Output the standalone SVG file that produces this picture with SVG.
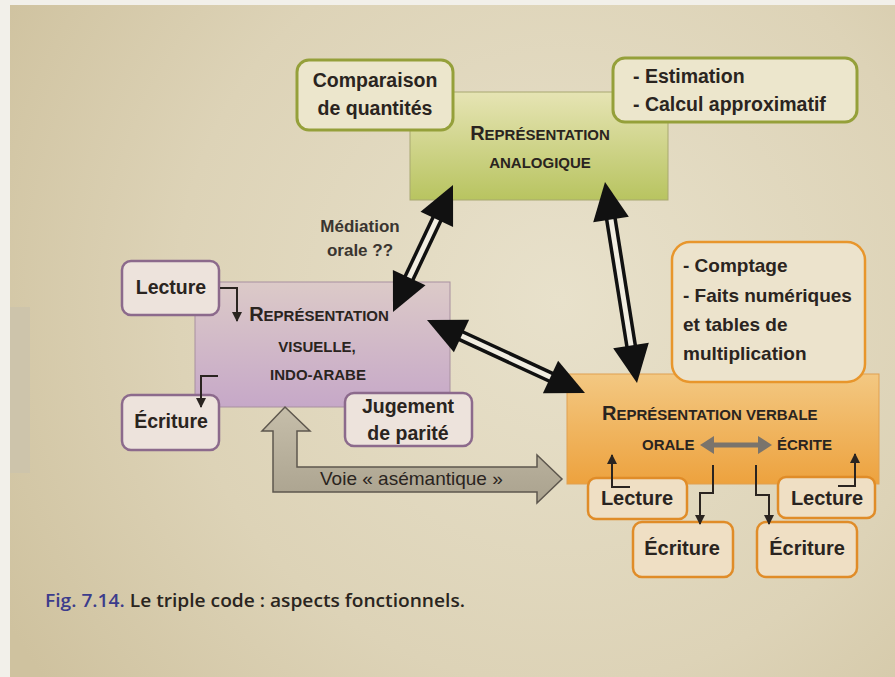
<svg xmlns="http://www.w3.org/2000/svg" width="895" height="677" viewBox="0 0 895 677">
<defs>
<radialGradient id="bg" cx="560" cy="300" r="640" gradientUnits="userSpaceOnUse">
<stop offset="0" stop-color="#e8e1cb"/>
<stop offset="0.6" stop-color="#ddd3b7"/>
<stop offset="1" stop-color="#cfc29f"/>
</radialGradient>
<linearGradient id="gGreen" x1="0" y1="0" x2="0" y2="1">
<stop offset="0" stop-color="#e6e4b4"/>
<stop offset="1" stop-color="#b8c460"/>
</linearGradient>
<linearGradient id="gPurple" x1="0" y1="0" x2="0" y2="1">
<stop offset="0" stop-color="#dccac8"/>
<stop offset="1" stop-color="#c6a8c8"/>
</linearGradient>
<linearGradient id="gOrange" x1="0" y1="0" x2="0" y2="1">
<stop offset="0" stop-color="#f3c882"/>
<stop offset="1" stop-color="#eda23e"/>
</linearGradient>
<linearGradient id="gGray" x1="0" y1="0" x2="0" y2="1">
<stop offset="0" stop-color="#c6beaa"/>
<stop offset="1" stop-color="#aaa28e"/>
</linearGradient>
<marker id="ah" viewBox="0 0 10 10" refX="9" refY="5" markerWidth="5" markerHeight="5" orient="auto" markerUnits="strokeWidth">
<path d="M0,0 L10,5 L0,10 z" fill="#2a2420"/>
</marker>
<style>
.t{font-family:"Liberation Sans",Arial,sans-serif;font-weight:bold;fill:#2a2420}
.r{font-family:"Liberation Sans",Arial,sans-serif;fill:#2a2420}
.bl{font-size:19.5px}
.sc{font-size:15px}
.big{font-size:20px}
.gbox{fill:#ece6cc;stroke:#95a03a;stroke-width:3}
.pbox{fill:#ede3dc;stroke:#8c6a8c;stroke-width:2.5}
.obox{fill:#efdfc4;stroke:#e08c28;stroke-width:2.5}
.elb{fill:none;stroke:#2a2420;stroke-width:2;marker-end:url(#ah)}
.sh{stroke:#111;stroke-width:12;stroke-linecap:butt}
.shi{stroke:#f2eee2;stroke-width:5;stroke-linecap:butt}
.hd{fill:#111}
</style>
</defs>

<!-- page background -->
<rect x="0" y="0" width="895" height="677" fill="url(#bg)"/>
<rect x="0" y="0" width="10" height="677" fill="#f2f0ea"/>
<rect x="0" y="0" width="895" height="5" fill="#f2f0ea"/>
<rect x="10" y="307" width="20" height="166" fill="#cdc4ab"/>

<!-- main representation boxes -->
<g id="analogique">
<rect x="410" y="92" width="258" height="108" fill="url(#gGreen)" stroke="#a8a870" stroke-width="1"/>
<text class="t" x="540" y="140" text-anchor="middle"><tspan style="font-size:20px">R</tspan><tspan class="sc">EPRÉSENTATION</tspan></text>
<text class="t sc" x="540" y="168" text-anchor="middle">ANALOGIQUE</text>
</g>

<g id="visuelle">
<rect x="195" y="282" width="255" height="125" fill="url(#gPurple)" stroke="#a890a0" stroke-width="1"/>
<text class="t" x="319" y="321" text-anchor="middle"><tspan style="font-size:20px">R</tspan><tspan class="sc">EPRÉSENTATION</tspan></text>
<text class="t sc" x="317" y="352" text-anchor="middle">VISUELLE,</text>
<text class="t sc" x="318" y="380" text-anchor="middle">INDO-ARABE</text>
</g>

<g id="verbale">
<rect x="567" y="374" width="312" height="110" fill="url(#gOrange)" stroke="#e0a050" stroke-width="1"/>
<text class="t" x="602" y="420"><tspan style="font-size:20px">R</tspan><tspan class="sc">EPRÉSENTATION VERBALE</tspan></text>
<text class="t sc" x="642" y="450">ORALE</text>
<text class="t sc" x="777" y="450">ÉCRITE</text>
<line x1="712" y1="445" x2="760" y2="445" stroke="#7a746c" stroke-width="5"/>
<polygon points="700,445 714,436 714,454" fill="#7a746c"/>
<polygon points="772,445 758,436 758,454" fill="#7a746c"/>
</g>

<!-- function boxes -->
<g id="comparaison">
<rect class="gbox" x="297" y="60" width="156" height="70" rx="12"/>
<text class="t bl" x="375" y="87" text-anchor="middle">Comparaison</text>
<text class="t bl" x="375" y="115" text-anchor="middle">de quantités</text>
</g>

<g id="estimation">
<rect class="gbox" x="613" y="58" width="244" height="64" rx="12"/>
<text class="t bl" x="633" y="83">- Estimation</text>
<text class="t bl" x="633" y="111">- Calcul approximatif</text>
</g>

<g id="lecture-visuelle">
<rect class="pbox" x="122" y="261" width="97" height="54" rx="9"/>
<text class="t bl" x="171" y="294" text-anchor="middle">Lecture</text>
</g>

<g id="ecriture-visuelle">
<rect class="pbox" x="122" y="395" width="97" height="55" rx="9"/>
<text class="t bl" x="171" y="428" text-anchor="middle">Écriture</text>
</g>

<g id="parite">
<rect class="pbox" x="345" y="393" width="127" height="53" rx="9"/>
<text class="t bl" x="408" y="413" text-anchor="middle">Jugement</text>
<text class="t bl" x="408" y="440" text-anchor="middle">de parité</text>
</g>

<g id="comptage">
<rect x="672" y="242" width="193" height="140" rx="18" fill="#ece3cc" stroke="#e8962c" stroke-width="2.5"/>
<text class="t" style="font-size:19px" x="683" y="272">- Comptage</text>
<text class="t" style="font-size:19px" x="683" y="302">- Faits numériques</text>
<text class="t" style="font-size:19px" x="683" y="331">et tables de</text>
<text class="t" style="font-size:19px" x="683" y="360">multiplication</text>
</g>

<g id="lecture-orale">
<rect class="obox" x="588" y="478" width="99" height="41" rx="8"/>
<text class="t big" x="637" y="505" text-anchor="middle">Lecture</text>
</g>
<g id="ecriture-orale">
<rect class="obox" x="633" y="522" width="100" height="55" rx="9"/>
<text class="t big" x="682" y="555" text-anchor="middle">Écriture</text>
</g>
<g id="ecriture-ecrite">
<rect class="obox" x="757" y="522" width="100" height="55" rx="9"/>
<text class="t big" x="807" y="555" text-anchor="middle">Écriture</text>
</g>
<g id="lecture-ecrite">
<rect class="obox" x="778" y="477" width="97" height="41" rx="8"/>
<text class="t big" x="827" y="505" text-anchor="middle">Lecture</text>
</g>

<!-- connectors -->
<g id="connectors">
<!-- asemantic route -->
<polygon points="285,407 310,431 297,431 297,467 537,467 537,455 562,479 537,503 537,492 273,492 273,431 262,431" fill="url(#gGray)" stroke="#5e574e" stroke-width="1.5" stroke-linejoin="miter"/>
<text class="r" style="font-size:19px" x="320" y="485">Voie « asémantique »</text>

<!-- Médiation orale label -->
<text class="t" style="font-size:17px;fill:#3a3530" x="360" y="232" text-anchor="middle">Médiation</text>
<text class="t" style="font-size:17px;fill:#3a3530" x="360" y="256" text-anchor="middle">orale ??</text>

<!-- analogique <-> visuelle -->
<line class="sh" x1="440.2" y1="212.1" x2="405.8" y2="284.9"/>
<line class="shi" x1="440.2" y1="212.1" x2="405.8" y2="284.9"/>
<polygon class="hd" points="453,185 453.1,227.1 420.5,211.7"/>
<polygon class="hd" points="393,312 425.5,285.3 392.9,269.9"/>

<!-- analogique <-> verbale -->
<line class="sh" x1="609.7" y1="211.6" x2="632.3" y2="353.4"/>
<line class="shi" x1="609.7" y1="211.6" x2="632.3" y2="353.4"/>
<polygon class="hd" points="605,182 628.8,216.7 593.2,222.3"/>
<polygon class="hd" points="637,383 648.8,342.7 613.2,348.3"/>

<!-- visuelle <-> verbale -->
<line class="sh" x1="454.2" y1="332.6" x2="557.8" y2="380.4"/>
<line class="shi" x1="454.2" y1="332.6" x2="557.8" y2="380.4"/>
<polygon class="hd" points="427,320 453.9,352.3 469.1,319.7"/>
<polygon class="hd" points="585,393 542.9,393.3 558.1,360.7"/>

<!-- small elbow arrows -->
<path class="elb" d="M220,288 H237 V321"/>
<path class="elb" d="M218,376 H201 V407"/>
<path class="elb" d="M630,487 H612 V455"/>
<path class="elb" d="M713,465 V493 H700 V524"/>
<path class="elb" d="M756,465 V495 H769 V524"/>
<path class="elb" d="M838,486 H855 V454"/>
</g>

<!-- caption -->
<text x="45" y="607" style="font-family:'Open Sans','Liberation Sans',sans-serif;font-size:18px;font-weight:600" textLength="420" lengthAdjust="spacingAndGlyphs"><tspan fill="#3c3c8c">Fig. 7.14.</tspan><tspan fill="#2a2520"> Le triple code : aspects fonctionnels.</tspan></text>
</svg>
